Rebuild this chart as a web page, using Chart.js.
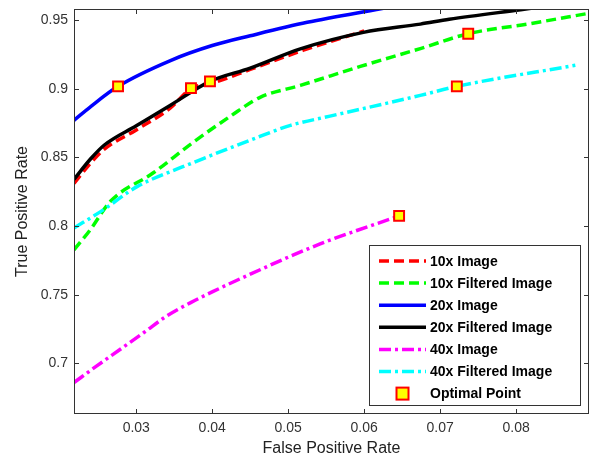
<!DOCTYPE html>
<html>
<head>
<meta charset="utf-8">
<script src="https://cdn.jsdelivr.net/npm/chart.js@4.4.0/dist/chart.umd.min.js"></script>
<style>
  body { margin: 0; background: #fff; }
</style>
</head>
<body>
<canvas id="rocChart" width="598" height="460"></canvas>
<script>
// --- Data ---
const xTicks = [0.03, 0.04, 0.05, 0.06, 0.07, 0.08];
const yTicks = [0.7, 0.75, 0.8, 0.85, 0.9, 0.95];

const roc10x = [[0.0218,0.831],[0.0240,0.846],[0.0258,0.856],[0.0300,0.870],[0.0345,0.886],[0.0372,0.900],[0.0400,0.904],[0.0450,0.914],[0.0520,0.928],[0.0600,0.942]];
const roc10xFiltered = [[0.0218,0.7827],[0.0239,0.797],[0.0266,0.818],[0.0322,0.8386],[0.0375,0.861],[0.0424,0.880],[0.0463,0.8937],[0.0516,0.9024],[0.0595,0.9162],[0.0674,0.9292],[0.0737,0.940],[0.0818,0.9473],[0.0893,0.9546]];
const roc20x = [[0.0218,0.877],[0.0240,0.887],[0.0276,0.9017],[0.0345,0.9205],[0.0400,0.9314],[0.0450,0.9385],[0.0525,0.9483],[0.0620,0.958],[0.0650,0.961]];
const roc20xFiltered = [[0.0218,0.834],[0.0240,0.849],[0.0258,0.859],[0.0300,0.873],[0.0345,0.888],[0.0397,0.9053],[0.0450,0.915],[0.0516,0.929],[0.0599,0.941],[0.0674,0.947],[0.0712,0.9505],[0.0806,0.9575],[0.0840,0.960]];
const roc40x = [[0.0218,0.6861],[0.0248,0.6982],[0.0279,0.7103],[0.0310,0.7225],[0.0340,0.7345],[0.0371,0.7441],[0.0402,0.7526],[0.0437,0.7617],[0.0542,0.787],[0.0646,0.8074]];
const roc40xFiltered = [[0.0218,0.7986],[0.0253,0.8105],[0.0301,0.8287],[0.0367,0.8444],[0.0450,0.8625],[0.0503,0.8733],[0.0555,0.880],[0.0674,0.8951],[0.0722,0.9017],[0.0878,0.917]];

const optimalX = [0.0276, 0.0372, 0.0397, 0.0737, 0.0722, 0.0646];
const optimalY = [0.9017, 0.9004, 0.9053, 0.940, 0.9017, 0.8074];

const FONT = "'Liberation Sans', Arial, sans-serif";

function toPoints(pairs) {
    return pairs.map(p => ({ x: p[0], y: p[1] }));
}

function lineSet(label, pairs, color, dash, order) {
    return {
        label: label,
        data: toPoints(pairs),
        borderColor: color,
        backgroundColor: color,
        borderWidth: 3.5,
        borderDash: dash,
        pointRadius: 0,
        cubicInterpolationMode: 'monotone',
        fill: false,
        order: order
    };
}

const dashed = [10, 5];
const dashDot = [12, 4, 3, 4];

// Matlab-like box with inward ticks on all four sides
const boxPlugin = {
    id: 'matlabBox',
    afterDraw(chart) {
        const ctx = chart.ctx;
        const a = chart.chartArea;
        const xs = chart.scales.x, ys = chart.scales.y;
        const tl = 5;
        ctx.save();
        ctx.strokeStyle = '#333';
        ctx.lineWidth = 1;
        ctx.strokeRect(a.left + 0.5, a.top + 0.5, a.right - a.left - 1, a.bottom - a.top - 1);
        ctx.beginPath();
        xTicks.forEach(v => {
            const px = Math.round(xs.getPixelForValue(v)) + 0.5;
            ctx.moveTo(px, a.bottom); ctx.lineTo(px, a.bottom - tl);
            ctx.moveTo(px, a.top); ctx.lineTo(px, a.top + tl);
        });
        yTicks.forEach(v => {
            const py = Math.round(ys.getPixelForValue(v)) + 0.5;
            ctx.moveTo(a.left, py); ctx.lineTo(a.left + tl, py);
            ctx.moveTo(a.right, py); ctx.lineTo(a.right - tl, py);
        });
        ctx.stroke();
        ctx.restore();
    }
};

// Legend box drawn in the lower right corner of the plot
const legendPlugin = {
    id: 'matlabLegend',
    afterDraw(chart) {
        const ctx = chart.ctx;
        const a = chart.chartArea;
        const bw = 211, bh = 160;
        const bx = a.right - 9 - bw, by = a.bottom - 9 - bh;
        const rowH = 22.1;
        ctx.save();
        ctx.fillStyle = '#fff';
        ctx.fillRect(bx, by, bw, bh);
        ctx.strokeStyle = '#333';
        ctx.lineWidth = 1;
        ctx.strokeRect(bx + 0.5, by + 0.5, bw, bh);
        ctx.font = 'bold 14px ' + FONT;
        ctx.textBaseline = 'middle';
        ctx.textAlign = 'left';
        const items = chart.data.datasets;
        items.forEach((ds, i) => {
            const cy = by + 16 + i * rowH;
            const x0 = bx + 10, x1 = bx + 57;
            if (ds.showLine === false) {
                ctx.setLineDash([]);
                ctx.fillStyle = ds.backgroundColor;
                ctx.strokeStyle = ds.borderColor;
                ctx.lineWidth = 2;
                ctx.fillRect((x0 + x1) / 2 - 6, cy - 6, 12, 12);
                ctx.strokeRect((x0 + x1) / 2 - 6, cy - 6, 12, 12);
            } else {
                ctx.setLineDash(ds.borderDash || []);
                ctx.strokeStyle = ds.borderColor;
                ctx.lineWidth = ds.borderWidth;
                ctx.beginPath();
                ctx.moveTo(x0, cy);
                ctx.lineTo(x1, cy);
                ctx.stroke();
            }
            ctx.setLineDash([]);
            ctx.fillStyle = '#000';
            ctx.fillText(ds.label, bx + 61, cy + 1);
        });
        ctx.restore();
    }
};

const ctx = document.getElementById('rocChart');
new Chart(ctx, {
    type: 'line',
    data: {
        datasets: [
            lineSet('10x Image', roc10x, '#ff0000', dashed, 6),
            lineSet('10x Filtered Image', roc10xFiltered, '#00ff00', dashed, 5),
            lineSet('20x Image', roc20x, '#0000ff', [], 4),
            lineSet('20x Filtered Image', roc20xFiltered, '#000000', [], 3),
            lineSet('40x Image', roc40x, '#ff00ff', dashDot, 2),
            lineSet('40x Filtered Image', roc40xFiltered, '#00ffff', dashDot, 1),
            {
                label: 'Optimal Point',
                data: optimalX.map((x, i) => ({ x: x, y: optimalY[i] })),
                showLine: false,
                pointStyle: 'rect',
                pointRadius: 7,
                borderWidth: 2,
                backgroundColor: '#ffff00',
                borderColor: '#ff0000',
                order: 0
            }
        ]
    },
    options: {
        responsive: false,
        animation: false,
        devicePixelRatio: 1,
        layout: {
            padding: { left: 0, right: 8, top: 8, bottom: 0 }
        },
        scales: {
            x: {
                type: 'linear',
                min: 0.0218,
                max: 0.0896,
                grid: { display: false, drawTicks: false },
                border: { display: false },
                afterBuildTicks: scale => { scale.ticks = xTicks.map(v => ({ value: v })); },
                afterFit: scale => {
                    scale.height = 46;
                    scale.paddingLeft = 0;
                    scale.paddingRight = 0;
                },
                ticks: {
                    padding: 6,
                    color: '#333',
                    font: { family: FONT, size: 14 },
                    callback: v => String(v)
                },
                title: {
                    display: true,
                    text: 'False Positive Rate',
                    color: '#222',
                    font: { family: FONT, size: 16 },
                    padding: { top: 0, bottom: 2 }
                }
            },
            y: {
                type: 'linear',
                min: 0.6632,
                max: 0.958,
                grid: { display: false, drawTicks: false },
                border: { display: false },
                afterBuildTicks: scale => { scale.ticks = yTicks.map(v => ({ value: v })); },
                afterFit: scale => {
                    scale.width = 74;
                    scale.paddingTop = 0;
                    scale.paddingBottom = 0;
                },
                ticks: {
                    padding: 6,
                    color: '#333',
                    font: { family: FONT, size: 14 },
                    callback: v => String(v)
                },
                title: {
                    display: true,
                    text: 'True Positive Rate',
                    color: '#222',
                    font: { family: FONT, size: 16 },
                    padding: { top: 13, bottom: 0 }
                }
            }
        },
        plugins: {
            legend: { display: false },
            tooltip: { enabled: false }
        }
    },
    plugins: [boxPlugin, legendPlugin]
});
</script>
</body>
</html>
